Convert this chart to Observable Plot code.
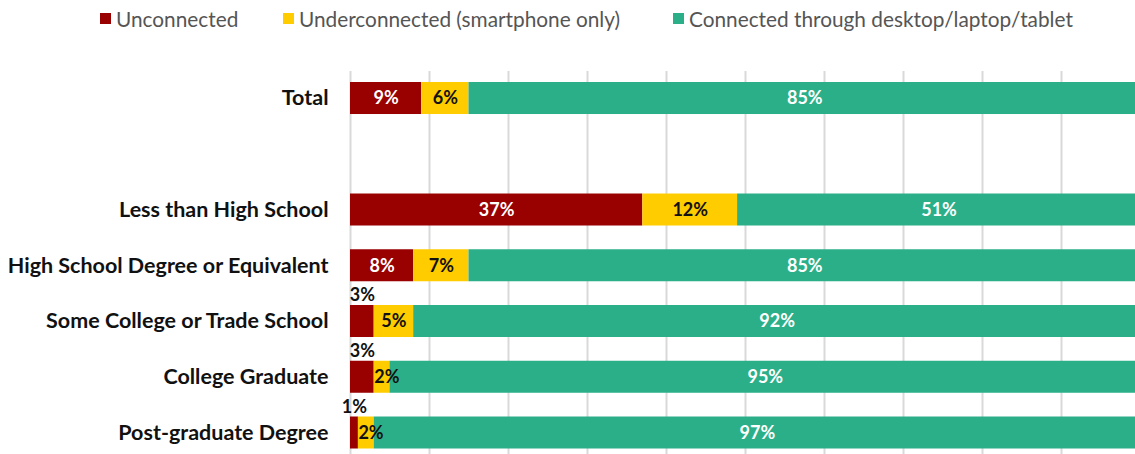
<!DOCTYPE html>
<html><head><meta charset="utf-8">
<script src="https://cdn.jsdelivr.net/npm/d3@7"></script>
<script src="https://cdn.jsdelivr.net/npm/@observablehq/plot@0.6"></script>
<style>
body{margin:0;background:#fff;font-family:Lato,sans-serif;overflow:hidden}
#legend{position:relative;height:36px;width:1135px}
.item{position:absolute;top:6px;height:24px;display:flex;align-items:center;font-size:20.8px;color:#555;white-space:nowrap}
.sw{width:11px;height:11px;margin-right:5px;flex:none}
#chart svg{display:block}
#chart g[aria-label="y-axis tick label"] text{font-weight:bold}
</style></head><body>
<div id="legend"></div><div id="chart"></div>
<script>
const categories = ["Total","Less than High School","High School Degree or Equivalent","Some College or Trade School","College Graduate","Post-graduate Degree"];
const unconnected = [9,37,8,3,3,1];
const underconnected = [6,12,7,5,2,2];
const connected = [85,51,85,92,95,97];
const series = ["Unconnected","Underconnected (smartphone only)","Connected through desktop/laptop/tablet"];
const colors = ["#990000","#ffcc00","#2baf88"];
const gridTicks = [0,10,20,30,40,50,60,70,80,90,100];

const spacer = " ";
const yDomain = [categories[0], spacer, ...categories.slice(1)];
const valuesBySeries = [unconnected, underconnected, connected];

const rows = [];
const centerLabels = [], aboveLabels = [], startLabels = [];
categories.forEach((cat, i) => {
  let acc = 0;
  series.forEach((s, j) => {
    const v = valuesBySeries[j][i];
    rows.push({cat, series: s, value: v});
    const rec = {cat, text: v + "%", mid: acc + v / 2, start: acc, dark: j === 1};
    if (j === 0 && v < 5) aboveLabels.push(rec);
    else if (j === 1 && v < 4) startLabels.push(rec);
    else centerLabels.push(rec);
    acc += v;
  });
});

// legend
const legend = document.getElementById("legend");
const legendLeft = [100, 283, 673];
series.forEach((s, j) => {
  const it = document.createElement("div");
  it.className = "item";
  it.style.left = legendLeft[j] + "px";
  const sw = document.createElement("span");
  sw.className = "sw"; sw.style.background = colors[j];
  const tx = document.createElement("span"); tx.textContent = s;
  it.append(sw, tx); legend.append(it);
});

const chart = Plot.plot({
  width: 1135,
  height: 418,
  marginLeft: 350,
  marginRight: -5,
  marginTop: 35,
  marginBottom: 0,
  style: {fontFamily: "Lato, sans-serif", color: "#111", background: "#fff"},
  x: {domain: [0, 100], axis: null},
  y: {domain: yDomain, axis: null, round: false, paddingInner: 0.426, paddingOuter: 0.148, align: 0.667},
  color: {domain: series, range: colors},
  marks: [
    Plot.gridX(gridTicks, {stroke: "#d9d9d9", strokeOpacity: 1, strokeWidth: 2}),
    Plot.barX(rows, {x: "value", y: "cat", fill: "series", order: series}),
    Plot.text(centerLabels, {x: "mid", y: "cat", text: "text", fill: d => d.dark ? "#111" : "#fff", fontWeight: "bold", fontSize: 18}),
    Plot.text(startLabels, {x: "start", y: "cat", text: "text", fill: "#111", textAnchor: "start", dx: 0, fontWeight: "bold", fontSize: 18}),
    Plot.text(aboveLabels, {x: "mid", y: "cat", text: "text", fill: "#111", dy: -26, fontWeight: "bold", fontSize: 18}),
    Plot.axisY({tickSize: 0, tickPadding: 22, fontSize: 21.5, fontWeight: "bold", label: null, tickFormat: d => d.trim()})
  ]
});
document.getElementById("chart").append(chart);
</script>
</body></html>
